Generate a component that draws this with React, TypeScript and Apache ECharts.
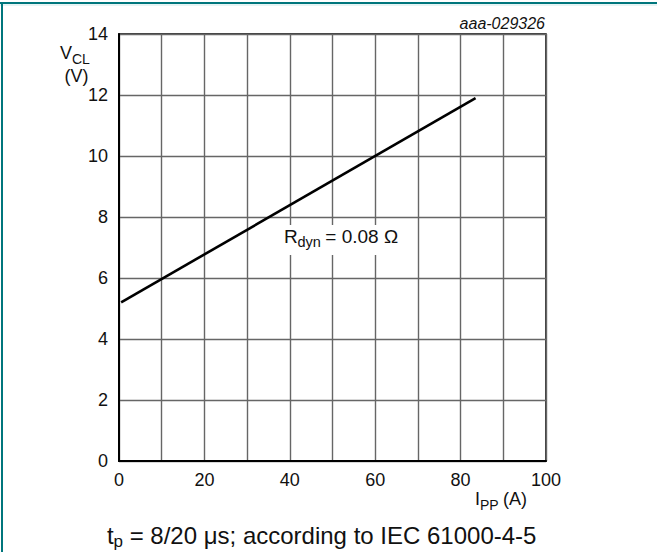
import React, { useEffect, useRef } from "react";
import * as echarts from "echarts";

// Data
const linePoints: [number, number][] = [
  [0.5, 5.2],
  [83.5, 11.9],
];
const xTickStep = 10;
const xLabelStep = 20;
const yTickStep = 2;
const xRange = [0, 100];
const yRange = [0, 14];

const FONT = "'Liberation Sans', Arial, sans-serif";

export default function App() {
  const ref = useRef<HTMLDivElement>(null);
  useEffect(() => {
    if (!ref.current) return;
    const chart = echarts.init(ref.current, null, { renderer: "svg" });
    const teal = "#00767c";
    const txt = (x: number, y: number, text: string, size: number, extra: any = {}) => ({
      type: "text",
      x,
      y,
      style: {
        text,
        fontSize: size,
        fontFamily: FONT,
        fill: "#111",
        verticalAlign: "middle",
        align: "left",
        ...extra,
      },
      z: 100,
    });
    chart.setOption({
      animation: false,
      backgroundColor: "#fff",
      grid: {
        left: 119,
        top: 34,
        width: 427,
        height: 427,
        show: true,
        borderColor: "#000",
        borderWidth: 1.5,
        backgroundColor: "transparent",
      },
      xAxis: {
        type: "value",
        min: xRange[0],
        max: xRange[1],
        interval: xTickStep,
        axisLine: { show: true, onZero: false, lineStyle: { color: "#000", width: 2 } },
        axisTick: { show: false },
        splitLine: { show: true, lineStyle: { color: "#666", width: 1.4 } },
        axisLabel: {
          margin: 10,
          fontSize: 18,
          fontFamily: FONT,
          color: "#111",
          formatter: (v: number) => (v % xLabelStep === 0 ? String(v) : ""),
        },
      },
      yAxis: {
        type: "value",
        min: yRange[0],
        max: yRange[1],
        interval: yTickStep,
        axisLine: { show: true, onZero: false, lineStyle: { color: "#000", width: 2 } },
        axisTick: { show: false },
        splitLine: { show: true, lineStyle: { color: "#666", width: 1.4 } },
        axisLabel: {
          margin: 11,
          fontSize: 18,
          fontFamily: FONT,
          color: "#111",
        },
      },
      series: [
        {
          type: "line",
          data: linePoints,
          showSymbol: false,
          symbol: "none",
          lineStyle: { color: "#000", width: 2.6 },
          z: 10,
        },
      ],
      graphic: [
        { type: "line", shape: { x1: 0, y1: 3, x2: 657, y2: 3 }, style: { stroke: teal, lineWidth: 2 }, z: 50 },
        { type: "line", shape: { x1: 0, y1: 5, x2: 657, y2: 5 }, style: { stroke: "#cfe9ea", lineWidth: 1 }, z: 50 },
        { type: "line", shape: { x1: 2, y1: 2, x2: 2, y2: 552 }, style: { stroke: teal, lineWidth: 2 }, z: 50 },
        txt(545, 23, "aaa-029326", 16, { align: "right", fontStyle: "italic" }),
        txt(60, 53, "V", 18),
        txt(72, 58.5, "CL", 14),
        txt(76.5, 76, "(V)", 18, { align: "center" }),
        txt(475, 498.5, "I", 18),
        txt(480, 505, "PP", 14),
        txt(498, 498.5, " (A)", 18),
        {
          type: "rect",
          shape: { x: 277, y: 225, width: 130, height: 30 },
          style: { fill: "#fff" },
          z: 90,
        },
        txt(284, 236, "R", 19),
        txt(297.5, 242, "dyn", 14.5),
        txt(320, 236, " = 0.08 Ω", 19),
        txt(107, 535, "t", 24),
        txt(113.5, 541, "p", 17),
        txt(123, 535, " = 8/20 μs; according to IEC 61000-4-5", 24),
      ],
    });
    return () => chart.dispose();
  }, []);
  return (
    <div
      ref={ref}
      style={{ position: "absolute", left: 0, top: 0, width: 657, height: 552 }}
    />
  );
}
